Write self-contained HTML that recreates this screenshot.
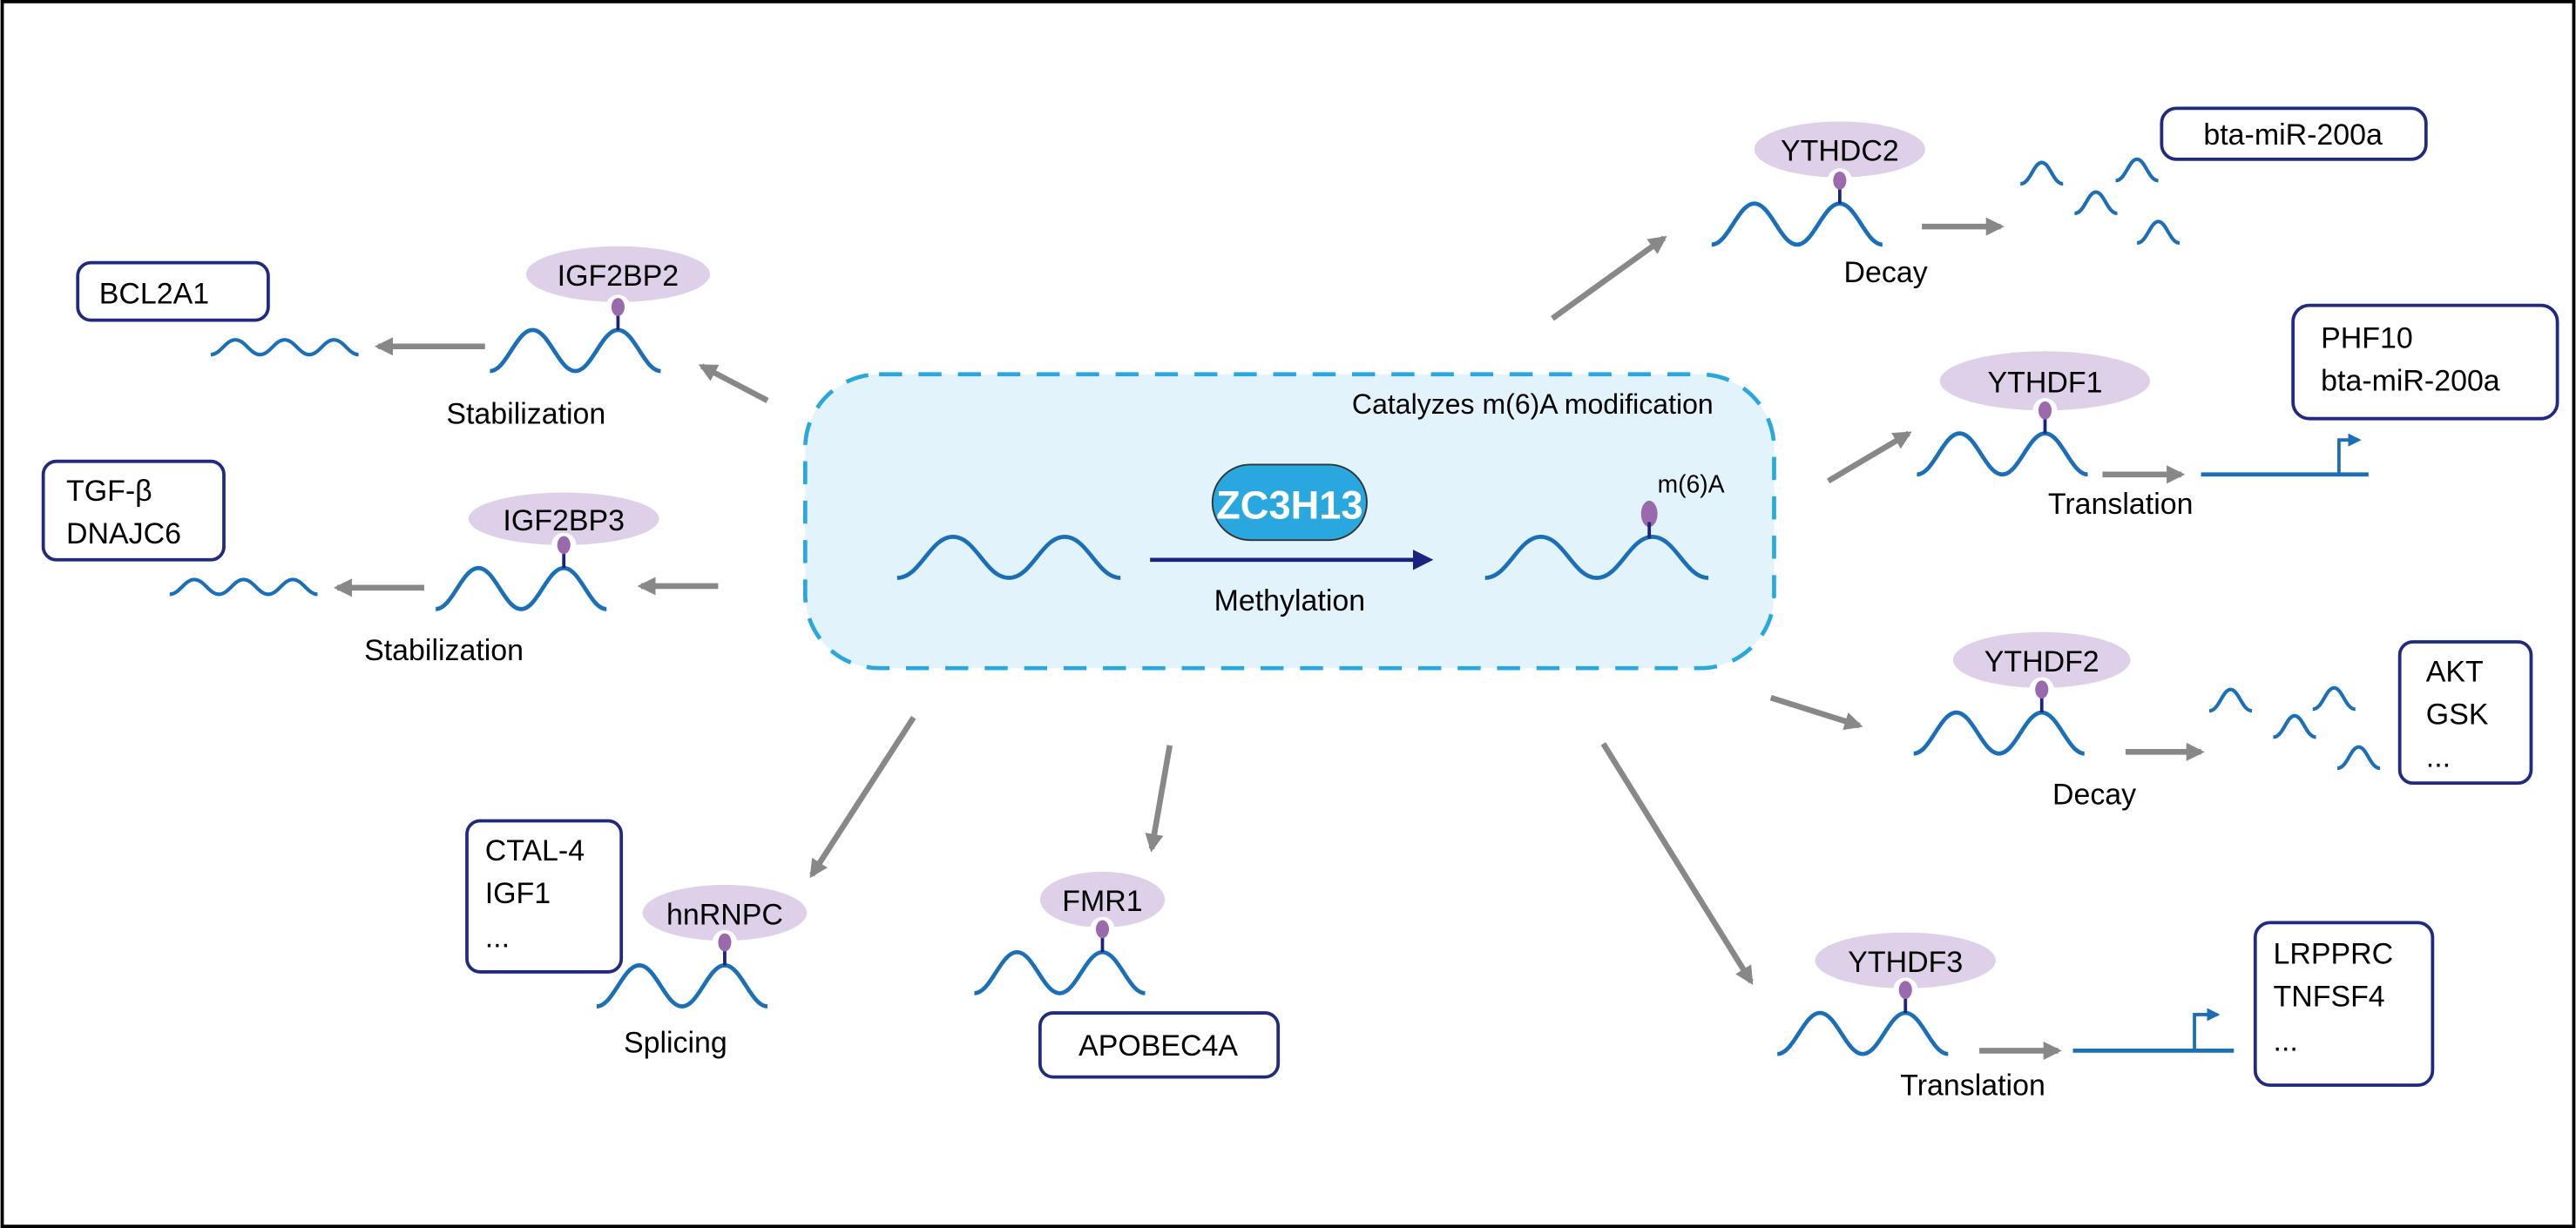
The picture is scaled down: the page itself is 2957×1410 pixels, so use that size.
<!DOCTYPE html>
<html><head><meta charset="utf-8"><style>
html,body{margin:0;padding:0;background:#fff}
svg{display:block}
text{font-family:"Liberation Sans",Arial,sans-serif;fill:#000}
</style></head><body>
<svg width="2957" height="1410" viewBox="0 0 1568 748" xmlns="http://www.w3.org/2000/svg">
<defs>
<marker id="ga" viewBox="0 0 10 10" refX="8" refY="5" markerWidth="3.2" markerHeight="3.2" orient="auto" markerUnits="strokeWidth"><path d="M0,0 L10,5 L0,10 z" fill="#888"/></marker>
<marker id="na" viewBox="0 0 10 10" refX="8" refY="5" markerWidth="5" markerHeight="5" orient="auto" markerUnits="strokeWidth"><path d="M0,0 L10,5 L0,10 z" fill="#1a237e"/></marker>
<marker id="ba" viewBox="0 0 10 10" refX="8" refY="5" markerWidth="4" markerHeight="4" orient="auto" markerUnits="strokeWidth"><path d="M0,0 L10,5 L0,10 z" fill="#1a6fb8"/></marker>
<path id="w" d="M0,25 C10,25 16,0 26,0 C36,0 42,25 52,25 C62,25 68,0 78,0 C88,0 94,25 104,25" fill="none" stroke="#1a6fb8" stroke-width="2.5"/>
<path id="bw" d="M0,25 C14,25 20,0 34,0 C48,0 54,25 68,25 C82,25 88,0 102,0 C116,0 122,25 136,25" fill="none" stroke="#1a6fb8" stroke-width="2.5"/>
<path id="sw" d="M0,9 C6,9 9,0 15,0 C21,0 24,9 30,9 C36,9 39,0 45,0 C51,0 54,9 60,9 C66,9 69,0 75,0 C81,0 84,9 90,9" fill="none" stroke="#1a6fb8" stroke-width="2.2"/>
<path id="fr" d="M0,13 C6,13 8,0 13,0 C18,0 20,13 26,13" fill="none" stroke="#1a6fb8" stroke-width="2.2"/>
<g id="mod"><circle cx="0" cy="-14" r="7.5" fill="#fff"/><line x1="0" y1="-10" x2="0" y2="0" stroke="#1a237e" stroke-width="2"/><ellipse cx="0" cy="-14" rx="4" ry="5.5" fill="#9b6aad"/></g>
</defs>
<rect x="1" y="1" width="1566" height="746" fill="#fff" stroke="#000" stroke-width="2"/>

<!-- central box -->
<rect x="490" y="228" width="590" height="179" rx="45" fill="#e2f3fc" stroke="#29a8e0" stroke-width="2.5" stroke-dasharray="14,10"/>
<text x="1043" y="252" font-size="17" text-anchor="end">Catalyzes m(6)A modification</text>
<use href="#bw" x="546" y="327"/>
<line x1="700" y1="341" x2="870" y2="341" stroke="#1a237e" stroke-width="2.5" marker-end="url(#na)"/>
<rect x="738" y="283" width="94" height="46" rx="23" fill="#29a8e0" stroke="#333" stroke-width="1"/>
<text x="785" y="316" font-size="24" font-weight="bold" text-anchor="middle" style="fill:#fff">ZC3H13</text>
<text x="785" y="372" font-size="18" text-anchor="middle">Methylation</text>
<use href="#bw" x="904" y="327"/>
<ellipse cx="1004" cy="313" rx="5" ry="8" fill="#9b6aad"/>
<line x1="1004" y1="318" x2="1004" y2="328" stroke="#1a237e" stroke-width="2"/>
<text x="1009" y="300" font-size="15">m(6)A</text>

<!-- gray arrows -->
<g stroke="#888" stroke-width="3.5" marker-end="url(#ga)" fill="none">
<line x1="467" y1="244" x2="427" y2="223"/>
<line x1="295" y1="211" x2="230" y2="211"/>
<line x1="437" y1="357" x2="390" y2="357"/>
<line x1="258" y1="358" x2="205" y2="358"/>
<line x1="556" y1="437" x2="494" y2="533"/>
<line x1="712" y1="454" x2="701" y2="517"/>
<line x1="945" y1="194" x2="1013" y2="145"/>
<line x1="1170" y1="138" x2="1218" y2="138"/>
<line x1="1113" y1="293" x2="1162" y2="264"/>
<line x1="1280" y1="289" x2="1328" y2="289"/>
<line x1="1078" y1="425" x2="1132" y2="442"/>
<line x1="1294" y1="458" x2="1340" y2="458"/>
<line x1="976" y1="453" x2="1066" y2="598"/>
<line x1="1205" y1="640" x2="1253" y2="640"/>
</g>

<!-- IGF2BP2 -->
<ellipse cx="376" cy="167" rx="56" ry="17" fill="#ddd0e8"/>
<text x="376" y="174" font-size="18" text-anchor="middle">IGF2BP2</text>
<use href="#w" x="298" y="201"/><use href="#mod" x="376" y="201"/>
<text x="320" y="258" font-size="18" text-anchor="middle">Stabilization</text>
<use href="#sw" x="128" y="207"/>
<rect x="47" y="160" width="116" height="35" rx="8" fill="#fff" stroke="#1f2a80" stroke-width="2"/>
<text x="60" y="185" font-size="18">BCL2A1</text>

<!-- IGF2BP3 -->
<ellipse cx="343" cy="316" rx="58" ry="16" fill="#ddd0e8"/>
<text x="343" y="323" font-size="18" text-anchor="middle">IGF2BP3</text>
<use href="#w" x="265" y="346"/><use href="#mod" x="343" y="346"/>
<text x="270" y="402" font-size="18" text-anchor="middle">Stabilization</text>
<use href="#sw" x="103" y="353"/>
<rect x="26" y="281" width="110" height="60" rx="8" fill="#fff" stroke="#1f2a80" stroke-width="2"/>
<text x="40" y="305" font-size="18">TGF-β</text>
<text x="40" y="331" font-size="18">DNAJC6</text>

<!-- hnRNPC -->
<ellipse cx="441" cy="556" rx="50" ry="17" fill="#ddd0e8"/>
<text x="441" y="563" font-size="18" text-anchor="middle">hnRNPC</text>
<use href="#w" x="363" y="588"/><use href="#mod" x="441" y="588"/>
<text x="411" y="641" font-size="18" text-anchor="middle">Splicing</text>
<rect x="284" y="500" width="94" height="92" rx="8" fill="#fff" stroke="#1f2a80" stroke-width="2"/>
<text x="295" y="524" font-size="18">CTAL-4</text>
<text x="295" y="550" font-size="18">IGF1</text>
<text x="295" y="577" font-size="18">...</text>

<!-- FMR1 -->
<ellipse cx="671" cy="548" rx="38" ry="17" fill="#ddd0e8"/>
<text x="671" y="555" font-size="18" text-anchor="middle">FMR1</text>
<use href="#w" x="593" y="580"/><use href="#mod" x="671" y="580"/>
<rect x="633" y="617" width="145" height="39" rx="8" fill="#fff" stroke="#1f2a80" stroke-width="2"/>
<text x="705" y="643" font-size="18" text-anchor="middle">APOBEC4A</text>

<!-- YTHDC2 -->
<ellipse cx="1120" cy="91" rx="52" ry="17" fill="#ddd0e8"/>
<text x="1120" y="98" font-size="18" text-anchor="middle">YTHDC2</text>
<use href="#w" x="1042" y="124"/><use href="#mod" x="1120" y="124"/>
<text x="1148" y="172" font-size="18" text-anchor="middle">Decay</text>
<use href="#fr" x="1230" y="99"/><use href="#fr" x="1263" y="117"/><use href="#fr" x="1288" y="97"/><use href="#fr" x="1301" y="135"/>
<rect x="1316" y="66" width="161" height="31" rx="9" fill="#fff" stroke="#1f2a80" stroke-width="2"/>
<text x="1396" y="88" font-size="18" text-anchor="middle">bta-miR-200a</text>

<!-- YTHDF1 -->
<ellipse cx="1245" cy="232" rx="64" ry="18" fill="#ddd0e8"/>
<text x="1245" y="239" font-size="18" text-anchor="middle">YTHDF1</text>
<use href="#w" x="1167" y="264"/><use href="#mod" x="1245" y="264"/>
<text x="1291" y="313" font-size="18" text-anchor="middle">Translation</text>
<line x1="1340" y1="289" x2="1442" y2="289" stroke="#1a6fb8" stroke-width="2.5"/>
<polyline points="1424,289 1424,268 1436,268" fill="none" stroke="#1a6fb8" stroke-width="2" marker-end="url(#ba)"/>
<rect x="1396" y="186" width="161" height="69" rx="10" fill="#fff" stroke="#1f2a80" stroke-width="2"/>
<text x="1413" y="212" font-size="18">PHF10</text>
<text x="1413" y="238" font-size="18">bta-miR-200a</text>

<!-- YTHDF2 -->
<ellipse cx="1243" cy="402" rx="54" ry="17" fill="#ddd0e8"/>
<text x="1243" y="409" font-size="18" text-anchor="middle">YTHDF2</text>
<use href="#w" x="1165" y="434"/><use href="#mod" x="1243" y="434"/>
<text x="1275" y="490" font-size="18" text-anchor="middle">Decay</text>
<use href="#fr" x="1345" y="420"/><use href="#fr" x="1384" y="436"/><use href="#fr" x="1408" y="419"/><use href="#fr" x="1423" y="455"/>
<rect x="1461" y="391" width="80" height="86" rx="8" fill="#fff" stroke="#1f2a80" stroke-width="2"/>
<text x="1477" y="415" font-size="18">AKT</text>
<text x="1477" y="441" font-size="18">GSK</text>
<text x="1477" y="467" font-size="18">...</text>

<!-- YTHDF3 -->
<ellipse cx="1160" cy="585" rx="55" ry="17" fill="#ddd0e8"/>
<text x="1160" y="592" font-size="18" text-anchor="middle">YTHDF3</text>
<use href="#w" x="1082" y="617"/><use href="#mod" x="1160" y="617"/>
<text x="1201" y="667" font-size="18" text-anchor="middle">Translation</text>
<line x1="1262" y1="640" x2="1360" y2="640" stroke="#1a6fb8" stroke-width="2.5"/>
<polyline points="1336,640 1336,618 1350,618" fill="none" stroke="#1a6fb8" stroke-width="2" marker-end="url(#ba)"/>
<rect x="1373" y="562" width="108" height="99" rx="9" fill="#fff" stroke="#1f2a80" stroke-width="2"/>
<text x="1384" y="587" font-size="18">LRPPRC</text>
<text x="1384" y="613" font-size="18">TNFSF4</text>
<text x="1384" y="640" font-size="18">...</text>
</svg>
</body></html>
